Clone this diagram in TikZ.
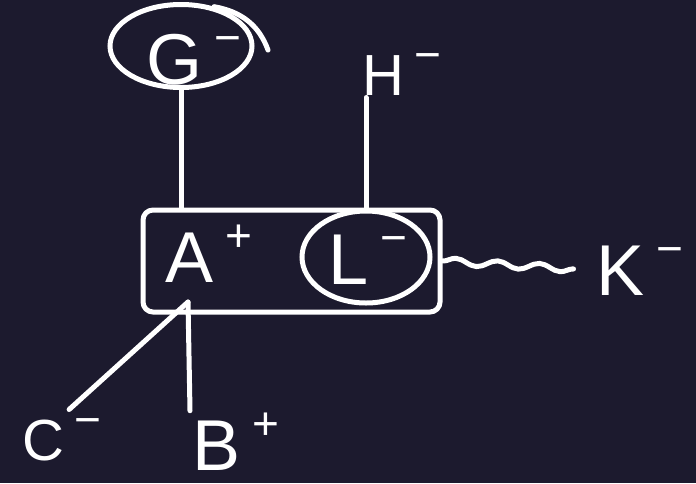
\documentclass[tikz,border=0pt]{standalone}
\usepackage{fontspec}
\setmainfont{Liberation Sans}
\usetikzlibrary{shapes.geometric,decorations.pathmorphing}
\definecolor{board}{HTML}{1C1A2E}
\newcommand{\ion}[2]{#1\,\raisebox{0.42em}{\fontsize{46}{46}\selectfont #2}}
\tikzset{
            chem/.style={text=white, inner sep=0pt, anchor=base west, font=\fontsize{72}{72}\selectfont},
            small/.style={font=\fontsize{58}{58}\selectfont},
            ring/.style={draw=white, ellipse, inner sep=0pt},
            bond/.style={draw=white, line cap=round, line join=round}
        }

\begin{document}
\begin{tikzpicture}[
                    x=1pt, y=-1pt,
                    line width=5pt
                    ]
                \fill[board] (0,0) rectangle (696,483);
                \useasboundingbox (0,0) rectangle (696,483);

                \node[ring, minimum width=142pt, minimum height=83pt] (gring) at (181,46) {};
                \node[chem] (g) at (144,84) {\ion{G}{−}};
                \node[chem, small] (h) at (360,95) {\ion{H}{−}};
                \node[draw=white, rounded corners=10pt, minimum width=297pt, minimum height=102pt] (box) at (291.5,261) {};
                \node[chem] (a) at (163,282) {\ion{A}{+}};
                \node[ring, minimum width=128pt, minimum height=92pt] (lring) at (366,257) {};
                \node[chem] (l) at (326,284) {\ion{L}{−}};
                \node[chem] (k) at (594,295) {\ion{K}{−}};
                \node[chem, small] (c) at (20,460) {\ion{C}{−}};
                \node[chem] (b) at (190,470) {\ion{B}{+}};
                \coordinate (root) at (188,302);

                \draw[bond] (gring.50) to[out=-10, in=110] (268,50);
                \draw[bond] (gring.south) -- (gring.south |- box.north);
                \draw[bond] (h.south west -| lring.north) -- (lring.north);
                \draw[bond, decorate, decoration={snake, amplitude=3.5pt, segment length=42pt}, shorten >=22pt] (box.east) -- (k.west);
                \draw[bond, shorten >=10pt] (root) -- (c.north);
                \draw[bond] (root) -- (b.north west);
            \end{tikzpicture}
\end{document}
